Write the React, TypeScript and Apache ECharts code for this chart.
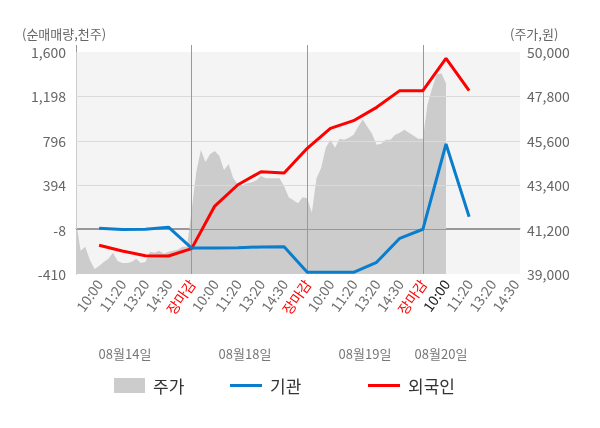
import React, { useEffect, useRef } from 'react';
import * as echarts from 'echarts';

// ---- data ----
const TIME_LABELS = [
  '',
  '10:00', '11:20', '13:20', '14:30', '장마감',
  '10:00', '11:20', '13:20', '14:30', '장마감',
  '10:00', '11:20', '13:20', '14:30', '장마감',
  '10:00', '11:20', '13:20', '14:30',
];
const CURRENT_LABEL_INDEX = 16;
const DATE_LABELS = ['08월14일', '08월18일', '08월19일', '08월20일'];
const LEFT_TICKS = [-410, -8, 394, 796, 1198, 1600];
const RIGHT_TICKS = [39000, 41200, 43400, 45600, 47800, 50000];
const LEFT_TITLE = '(순매매량,천주)';
const RIGHT_TITLE = '(주가,원)';

// net buying (thousand shares), category index 1..17
const FOREIGN = [-150, -202, -244, -247, -180, 205, 398, 516, 505, 728, 909, 978, 1099, 1250, 1250, 1543, 1250];
const INSTITUTION = [4, -6, -5, 14, -175, -175, -172, -165, -163, -395, -395, -395, -304, -87, -5, 767, 109];

// share price (won), sampled every PRICE_STEP category units from the start
const PRICE_STEP = 0.2;
const PRICE = [
  41650, 40150, 40350, 39700, 39250, 39400, 39600, 39750, 40050, 39650,
  39550, 39550, 39600, 39750, 39550, 39600, 40100, 40050, 40150, 40000,
  40100, 40150, 40200, 40350, 40350, 42150, 44050, 45150, 44550, 44950,
  45100, 44850, 44150, 44450, 43750, 43450, 43400, 43500, 43550, 43650,
  43850, 43750, 43750, 43750, 43750, 43350, 42800, 42650, 42500, 42800,
  42750, 42050, 43750, 44250, 45250, 45650, 45250, 45700, 45650, 45750,
  45900, 46300, 46650, 46300, 45950, 45400, 45450, 45650, 45650, 45900,
  46000, 46150, 46000, 45850, 45700, 45700, 47400, 48200, 48900, 48950,
  48450,
];

const FONT = '"Noto Sans CJK KR", "Noto Sans", sans-serif';
const LINE_ICON = 'path://M0,0 H32 V3 H0 Z';

export default function App() {
  const ref = useRef<HTMLDivElement>(null);

  useEffect(() => {
    if (!ref.current) return;
    const chart = echarts.init(ref.current, null, { renderer: 'svg' });
    const fmt = (v: number) => Number(v).toLocaleString('en-US');
    const labelIdx = TIME_LABELS.map((_, i) => i).filter((i) => TIME_LABELS[i] !== '');
    const dayBreaks = [0, ...TIME_LABELS.map((t, i) => (t === '장마감' ? i : -1)).filter((i) => i >= 0)];
    const xMax = 19.2;
    const dateX = [125, 245, 365, 441];

    const legendBase = {
      top: 377,
      padding: 0,
      itemWidth: 32,
      itemHeight: 15,
      selectedMode: false,
      textStyle: { fontSize: 17, color: '#333', fontFamily: FONT, padding: [0, 0, 0, 3] },
    };

    const textEl = (text: string, x: number, y: number, align: string, size: number, fill: string) => ({
      type: 'text',
      x,
      y,
      silent: true,
      style: { text, align, verticalAlign: 'middle', fontSize: size, lineHeight: size, fontFamily: FONT, fill },
    });

    const option: any = {
      animation: false,
      textStyle: { fontFamily: FONT },
      grid: {
        left: 76, right: 80, top: 52, bottom: 154,
        show: true, backgroundColor: '#f4f4f4', borderWidth: 0,
      },
      xAxis: [
        {
          type: 'value', min: 0, max: xMax, position: 'bottom',
          axisLine: { show: true, lineStyle: { color: '#999' } },
          axisTick: { show: true, customValues: dayBreaks, length: 5, lineStyle: { color: '#999' } },
          axisLabel: {
            customValues: labelIdx,
            rotate: 55,
            margin: 7,
            fontSize: 14,
            color: '#707070',
            fontFamily: FONT,
            formatter: (v: number) => {
              const i = Math.round(v);
              const t = TIME_LABELS[i] || '';
              if (t === '장마감') return '{red|' + t + '}';
              if (i === CURRENT_LABEL_INDEX) return '{cur|' + t + '}';
              return t;
            },
            rich: {
              red: { color: '#ff0000', fontSize: 14, fontFamily: FONT },
              cur: { color: '#222', fontSize: 14, fontFamily: FONT },
            },
          },
          splitLine: { show: false },
        },
        {
          type: 'value', min: 0, max: xMax, position: 'top',
          axisLine: { show: false },
          axisTick: { show: true, customValues: dayBreaks, length: 7, lineStyle: { color: '#999' } },
          axisLabel: { show: false },
          splitLine: { show: false },
        },
      ],
      yAxis: [
        {
          type: 'value', min: LEFT_TICKS[0], max: LEFT_TICKS[LEFT_TICKS.length - 1], position: 'left',
          axisLine: { show: true, lineStyle: { color: '#999' } },
          axisTick: { show: false },
          axisLabel: { customValues: LEFT_TICKS, formatter: fmt, fontSize: 14, lineHeight: 14, color: '#666', margin: 10, fontFamily: FONT },
          splitLine: { show: false },
        },
        {
          type: 'value', min: RIGHT_TICKS[0], max: RIGHT_TICKS[RIGHT_TICKS.length - 1], position: 'right',
          axisLine: { show: true, lineStyle: { color: '#ccc' } },
          axisTick: { show: false },
          axisLabel: { customValues: RIGHT_TICKS, formatter: fmt, fontSize: 14, lineHeight: 14, color: '#666', margin: 7, fontFamily: FONT },
          splitLine: { show: false },
        },
      ],
      legend: [
        { ...legendBase, left: 114, itemWidth: 31, data: [{ name: '주가', icon: 'rect' }] },
        { ...legendBase, left: 230, data: [{ name: '기관', icon: LINE_ICON }] },
        { ...legendBase, left: 368, data: [{ name: '외국인', icon: LINE_ICON }] },
      ],
      graphic: [
        textEl(LEFT_TITLE, 22, 33, 'left', 13, '#666'),
        textEl(RIGHT_TITLE, 510, 33, 'left', 13, '#666'),
        ...DATE_LABELS.map((t, k) => textEl(t, dateX[k], 353, 'center', 13, '#777')),
      ],
      series: [
        {
          type: 'line',
          name: '주가',
          xAxisIndex: 0,
          yAxisIndex: 1,
          data: PRICE.map((p, i) => [i * PRICE_STEP, p]),
          symbol: 'none',
          color: '#cccccc',
          lineStyle: { width: 0 },
          areaStyle: { color: '#cccccc', opacity: 1, origin: 'start' },
          z: 1,
          markLine: {
            silent: true,
            symbol: 'none',
            z: 2,
            label: { show: false },
            data: [
              ...RIGHT_TICKS.slice(2, RIGHT_TICKS.length - 1).map((v) => ({
                yAxis: v,
                lineStyle: { color: '#dadada', width: 1, type: 'solid' },
              })),
              { yAxis: RIGHT_TICKS[1], lineStyle: { color: '#999', width: 1, type: 'solid' } },
              ...dayBreaks.slice(1).map((v) => ({
                xAxis: v,
                lineStyle: { color: '#999', width: 1, type: 'solid' },
              })),
            ],
          },
        },
        {
          type: 'line',
          name: '외국인',
          xAxisIndex: 0,
          yAxisIndex: 0,
          data: FOREIGN.map((v, i) => [i + 1, v]),
          symbol: 'none',
          color: '#ff0000',
          lineStyle: { width: 3 },
          z: 10,
        },
        {
          type: 'line',
          name: '기관',
          xAxisIndex: 0,
          yAxisIndex: 0,
          data: INSTITUTION.map((v, i) => [i + 1, v]),
          symbol: 'none',
          color: '#0a7ecc',
          lineStyle: { width: 3 },
          z: 11,
        },
      ],
    };

    chart.setOption(option);
    return () => chart.dispose();
  }, []);

  return <div ref={ref} style={{ position: 'fixed', left: 0, top: 0, width: 600, height: 428 }} />;
}
